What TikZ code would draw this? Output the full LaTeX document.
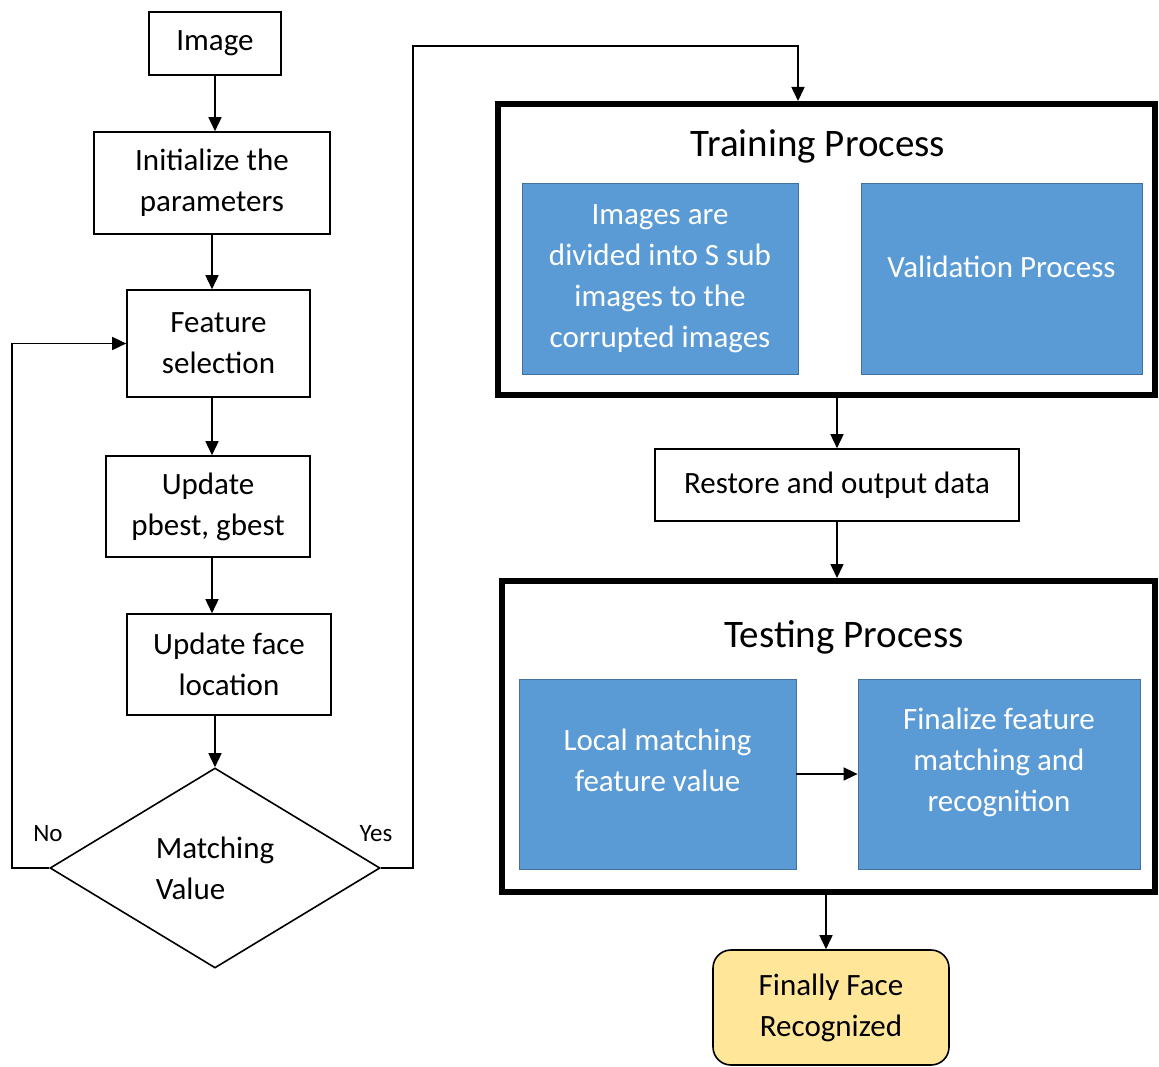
\documentclass[tikz,border=0pt]{standalone}
\usepackage{fontspec}
\setmainfont{Carlito}
\usetikzlibrary{arrows.meta,shapes.geometric}
\definecolor{boxblue}{HTML}{5B9BD5}
\definecolor{blueedge}{HTML}{41719C}
\definecolor{finalfill}{HTML}{FFE699}
\newcommand{\upby}[2]{\raisebox{#1}[\height][\depth]{#2}}
\begin{document}
\begin{tikzpicture}[x=1pt,y=-1pt,
  every node/.style={font=\fontsize{31}{41}\selectfont, align=center, inner sep=0pt},
  plainbox/.style={draw=black, line width=1.6pt, fill=white},
  bluebox/.style={draw=blueedge, line width=0.8pt, fill=boxblue, text=white},
  bigbox/.style={draw=black, line width=6pt},
  title/.style={font=\fontsize{39}{46}\selectfont},
  flow/.style={line width=1.6pt, -{Triangle[length=14pt,width=13pt]}},
  lbl/.style={font=\fontsize{25}{30}\selectfont}
]
\useasboundingbox (0,0) rectangle (1159,1067);

% left column
\node[plainbox, minimum width=132, minimum height=63] (img) at (215,43.5) {Image};
\node[plainbox, minimum width=236, minimum height=102] (init) at (212,183) {Initialize the\\parameters};
\node[plainbox, minimum width=183, minimum height=107] (feat) at (218.5,343.5) {Feature\\selection};
\node[plainbox, minimum width=204, minimum height=101] (upd) at (208,506.5) {Update\\pbest, gbest};
\node[plainbox, minimum width=204, minimum height=101] (face) at (229,664.5) {Update face\\location};
\node[draw=black, line width=1.6pt, shape=diamond, aspect=1.65, minimum width=330, minimum height=200, align=left] (dia) at (215,868) {Matching\\Value};

\draw[flow] (img.south) -- (img.south |- init.north);
\draw[flow] (init.south) -- (init.south |- feat.north);
\draw[flow] ([xshift=-6.5pt]feat.south) -- ([xshift=-6.5pt]feat.south |- upd.north);
\draw[flow] ([xshift=4pt]upd.south) -- ([xshift=4pt]upd.south |- face.north);
\draw[flow] (dia.north |- face.south) -- (dia.north);

\draw[flow] (dia.west) -- (12,868) |- (feat.west);
\node[lbl] (no) at (48,834) {No};

% training
\node[bigbox, minimum width=657, minimum height=291] (train) at (826.5,249.5) {};
\node[title] (ttitle) at (818,146) {Training Process};
\node[bluebox, minimum width=276, minimum height=191] (b1) at (660,278.5) {Images are\\divided into S sub\\images to the\\corrupted images};
\node[bluebox, minimum width=281, minimum height=191] (b2) at (1001.5,278.5) {\upby{12pt}{Validation Process}};

\draw[flow] (dia.east) -- (413,868) -- (413,46) -| ([xshift=-28.5pt]train.north);
\node[lbl] (yes) at (376,834) {Yes};

\node[plainbox, minimum width=364, minimum height=72] (rest) at (837,485) {Restore and output data};
\draw[flow] (rest.north |- train.south) -- (rest.north);

% testing
\node[bigbox, minimum width=653, minimum height=311] (test) at (828.5,736.5) {};
\node[title] (tetitle) at (844,637) {Testing Process};
\node[bluebox, minimum width=277, minimum height=190] (b3) at (657.5,774) {\upby{11.5pt}{\begin{tabular}{@{}c@{}}Local matching\\feature value\end{tabular}}};
\node[bluebox, minimum width=282, minimum height=190] (b4) at (999,774) {\upby{12pt}{\begin{tabular}{@{}c@{}}Finalize feature\\matching and\\recognition\end{tabular}}};
\draw[flow] (rest.south) -- (rest.south |- test.north);
\draw[flow] (b3.east) -- (b4.west);

\node[draw=black, line width=1.6pt, fill=finalfill, rounded corners=18pt, minimum width=236, minimum height=115] (fin) at (831,1007.5) {Finally Face\\Recognized};
\draw[flow] ([xshift=-5pt]fin.north |- test.south) -- ([xshift=-5pt]fin.north);
\end{tikzpicture}
\end{document}
